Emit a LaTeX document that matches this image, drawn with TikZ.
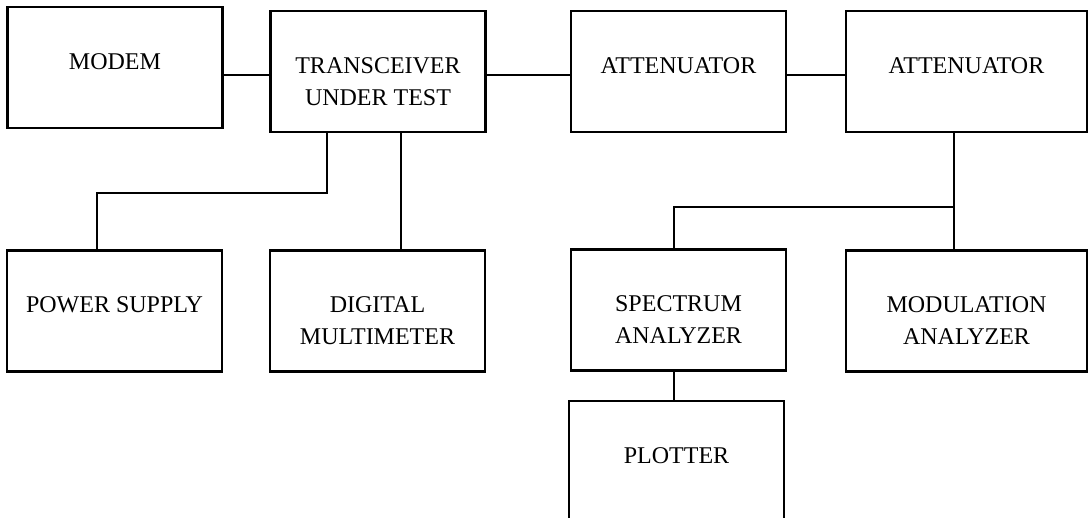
\documentclass[tikz,border=0pt]{standalone}
\usepackage{fontspec}
\setmainfont{Liberation Serif}
\tikzset{%
  >=latex,
  unit/.style={draw,line width=1.1pt,minimum width=107.5pt,
    minimum height=60.5pt,inner sep=0pt},
  wide unit/.style={unit,minimum width=120.5pt},
  caption/.style={anchor=north,align=center,inner sep=0pt,yshift=-23.5pt,
    font=\fontsize{12}{16}\selectfont},
  wire/.style={line width=1.1pt}%
}
\begin{document}
\begin{tikzpicture}[x=0.5pt,y=-0.5pt]
\clip (0,0) rectangle (1089,518);

% top row
\node[unit,label={[caption]north:MODEM}] (modem) at (115,67.5) {};
\node[unit,label={[caption]north:TRANSCEIVER\\UNDER TEST}] (trx) at (378,71.5) {};
\node[unit,label={[caption]north:ATTENUATOR}] (att1) at (678.5,71.5) {};
\node[wide unit,label={[caption]north:ATTENUATOR}] (att2) at (966.5,71.5) {};

% middle row
\node[unit,label={[caption]north:POWER SUPPLY}] (psu) at (114.5,311) {};
\node[unit,label={[caption]north:DIGITAL\\MULTIMETER}] (dmm) at (377.5,311) {};
\node[unit,label={[caption]north:SPECTRUM\\ANALYZER}] (spec) at (678.5,310) {};
\node[wide unit,label={[caption]north:MODULATION\\ANALYZER}] (mod) at (966.5,311) {};

% bottom (cut off by the page)
\node[unit,label={[caption]north:PLOTTER}] (plot) at (676.5,461.5) {};

% connections
\draw[wire] (modem.east |- 0,75) -- (trx.west |- 0,75);
\draw[wire] (trx.east |- 0,75) -- (att1.west |- 0,75);
\draw[wire] (att1.east |- 0,75) -- (att2.west |- 0,75);

\draw[wire] (trx.south -| 327,0) |- (97,193) -- (psu.north -| 97,0);
\draw[wire] (trx.south -| 401,0) -- (dmm.north -| 401,0);

\coordinate (split) at (954,207);
\draw[wire] (att2.south -| split) -- (mod.north -| split);
\draw[wire] (split) -| (spec.north -| 674,0);
\draw[wire] (spec.south -| 674,0) -- (plot.north -| 674,0);
\end{tikzpicture}
\end{document}
